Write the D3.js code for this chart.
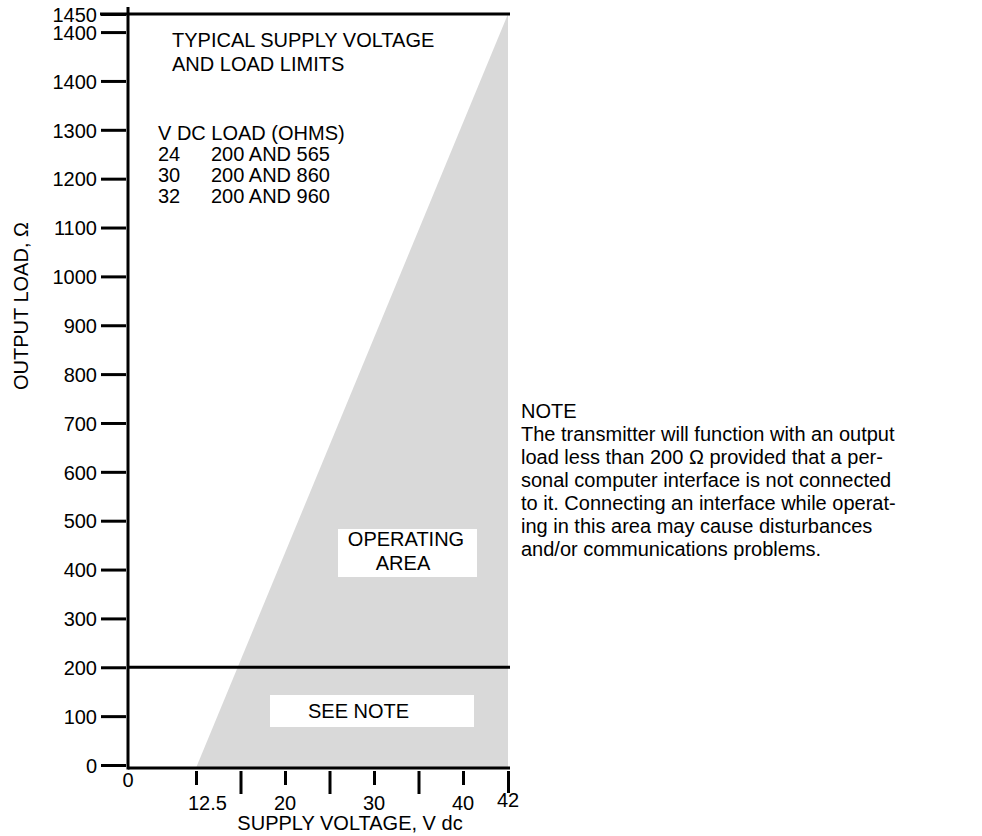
<!DOCTYPE html>
<html>
<head>
<meta charset="utf-8">
<script src="https://cdn.jsdelivr.net/npm/d3@7"></script>
<style>
  body { margin: 0; background: #fff; }
  svg { display: block; font-family: "Liberation Sans", Arial, Helvetica, sans-serif; }
</style>
</head>
<body>
<div id="viscontainer"></div>
<script>
// y axis: load in ohms (the source sheet labels the top ticks 1400, 1400, 1450)
const loadTicks = [0, 100, 200, 300, 400, 500, 600, 700, 800, 900, 1000, 1100, 1200, 1300, 1400, 1500, 1537];
const loadTickLabels = ["0", "100", "200", "300", "400", "500", "600", "700", "800", "900", "1000", "1100", "1200", "1300", "1400", "1400", "1450"];
const loadTop = 1537;
const loadLimit = 200;

// x axis: supply voltage (scale is broken between 0 and 12.5)
const voltTicks = [12.5, 16.25, 20, 25, 30, 35, 40, 42];
const voltTickLabels = ["12.5", "", "20", "", "30", "", "40", "42"];
const voltMin = 12.5;
const voltMax = 42;

// table of typical limits
const tableVolts = ["24", "30", "32"];
const tableLoads = ["200 AND 565", "200 AND 860", "200 AND 960"];

const noteLines = [
  "NOTE",
  "The transmitter will function with an output",
  "load less than 200 \u03A9 provided that a per-",
  "sonal computer interface is not connected",
  "to it. Connecting an interface while operat-",
  "ing in this area may cause disturbances",
  "and/or communications problems."
];

const width = 982;
const height = 836;
const ink = "#000";
const shade = "#d9d9d9";

const svg = d3.select("#viscontainer")
  .append("svg")
  .attr("width", width)
  .attr("height", height);

const y = d3.scaleLinear()
  .domain([0, loadTop])
  .range([765, 14]);

const x = d3.scaleLinear()
  .domain([0, 12.5, 20, 40, 42])
  .range([128, 196, 285, 463, 508]);

const axisY = 768;

// operating area
svg.append("path")
  .datum([[voltMin, 0], [voltMax, loadTop], [voltMax, 0]])
  .attr("d", d3.line().x(d => x(d[0])).y(d => d[1] === 0 ? axisY : y(d[1])).curve(d3.curveLinearClosed))
  .attr("fill", shade);

// white label boxes
svg.append("rect")
  .attr("x", 338).attr("y", 529).attr("width", 139).attr("height", 48)
  .attr("fill", "#fff");
svg.append("rect")
  .attr("x", 270).attr("y", 695).attr("width", 204).attr("height", 32)
  .attr("fill", "#fff");

// y axis
const gy = svg.append("g")
  .attr("transform", "translate(126,0)")
  .call(d3.axisLeft(y)
    .tickValues(loadTicks)
    .tickFormat((d, i) => loadTickLabels[i])
    .tickSize(25)
    .tickSizeOuter(0)
    .tickPadding(4));
gy.select(".domain").remove();
gy.selectAll(".tick line").attr("stroke", ink).attr("stroke-width", 3);
gy.selectAll(".tick text")
  .attr("fill", ink)
  .attr("font-size", 20)
  .attr("font-family", "Liberation Sans, Arial, sans-serif")
  .attr("dy", "0.36em");

// x axis ticks
const gx = svg.append("g")
  .attr("transform", `translate(0,${axisY + 3})`)
  .call(d3.axisBottom(x)
    .tickValues(voltTicks)
    .tickFormat("")
    .tickSize(15)
    .tickSizeOuter(0));
gx.select(".domain").remove();
gx.selectAll(".tick line")
  .attr("stroke", ink)
  .attr("stroke-width", 3)
  .attr("y2", (d, i) => voltTickLabels[i] === "" ? 23 : (d === voltMax ? 22 : 14));

// x tick labels
svg.append("g")
  .selectAll("text")
  .data(voltTicks.filter((d, i) => voltTickLabels[i] !== ""))
  .join("text")
  .attr("x", d => d === voltMin ? x(d) - 8 : x(d))
  .attr("y", d => d === voltMax ? 807 : 810)
  .attr("text-anchor", d => d === voltMin ? "start" : "middle")
  .attr("font-size", 20)
  .text(d => voltTickLabels[voltTicks.indexOf(d)]);

svg.append("text")
  .attr("x", x(0))
  .attr("y", 787)
  .attr("text-anchor", "middle")
  .attr("font-size", 20)
  .text("0");

// frame lines
svg.append("line")
  .attr("x1", x(0)).attr("x2", x(0))
  .attr("y1", 7).attr("y2", axisY + 1.5)
  .attr("stroke", ink).attr("stroke-width", 3);
svg.append("line")
  .attr("x1", x(0)).attr("x2", x(voltMax) + 2)
  .attr("y1", axisY).attr("y2", axisY)
  .attr("stroke", ink).attr("stroke-width", 3);
svg.append("line")
  .attr("x1", 100).attr("x2", x(voltMax) + 2)
  .attr("y1", y(loadTop)).attr("y2", y(loadTop))
  .attr("stroke", ink).attr("stroke-width", 3);
svg.append("line")
  .attr("x1", x(0)).attr("x2", x(voltMax) + 2)
  .attr("y1", y(loadLimit)).attr("y2", y(loadLimit))
  .attr("stroke", ink).attr("stroke-width", 3);

// axis titles
svg.append("text")
  .attr("transform", "translate(28,306) rotate(-90)")
  .attr("text-anchor", "middle")
  .attr("font-size", 20)
  .text("OUTPUT LOAD, \u03A9");

svg.append("text")
  .attr("x", 350)
  .attr("y", 830)
  .attr("text-anchor", "middle")
  .attr("font-size", 20)
  .text("SUPPLY VOLTAGE, V dc");

// title block
svg.append("text")
  .attr("x", 172).attr("y", 47)
  .attr("font-size", 20)
  .text("TYPICAL SUPPLY VOLTAGE");
svg.append("text")
  .attr("x", 172).attr("y", 71)
  .attr("font-size", 20)
  .text("AND LOAD LIMITS");

svg.append("text")
  .attr("x", 158).attr("y", 140)
  .attr("font-size", 20)
  .text("V DC LOAD (OHMS)");

const rows = svg.append("g")
  .selectAll("g")
  .data(tableVolts)
  .join("g")
  .attr("transform", (d, i) => `translate(0,${161 + i * 21})`);
rows.append("text")
  .attr("x", 158)
  .attr("font-size", 20)
  .text(d => d);
rows.append("text")
  .attr("x", 211)
  .attr("font-size", 20)
  .text((d, i) => tableLoads[i]);

// area labels
svg.append("text")
  .attr("x", 406).attr("y", 546)
  .attr("text-anchor", "middle")
  .attr("font-size", 20)
  .text("OPERATING");
svg.append("text")
  .attr("x", 403).attr("y", 570)
  .attr("text-anchor", "middle")
  .attr("font-size", 20)
  .text("AREA");
svg.append("text")
  .attr("x", 308).attr("y", 718)
  .attr("font-size", 20)
  .text("SEE NOTE");

// note
svg.append("g")
  .selectAll("text")
  .data(noteLines)
  .join("text")
  .attr("x", 521)
  .attr("y", (d, i) => 418 + i * 23)
  .attr("font-size", 20)
  .text(d => d);
</script>
</body>
</html>
